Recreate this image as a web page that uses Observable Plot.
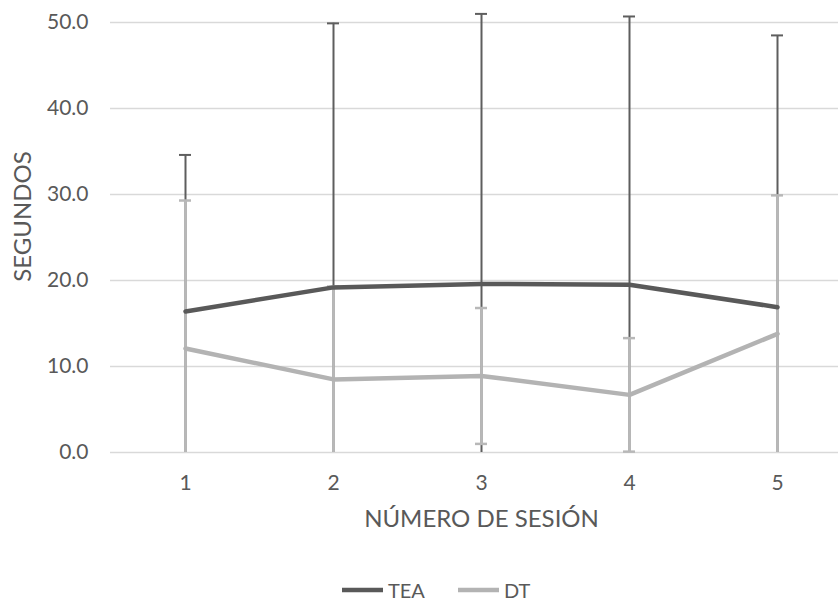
<!DOCTYPE html>
<html><head><meta charset="utf-8">
<script src="https://cdn.jsdelivr.net/npm/d3@7"></script>
<script src="https://cdn.jsdelivr.net/npm/@observablehq/plot@0.6"></script>
<style>
body{margin:0;background:#fff;font-family:Lato,sans-serif}
#legend{position:absolute;left:341px;top:575px;height:30px;display:flex;justify-content:flex-start;align-items:center;gap:32px;font-size:20px;color:#595959}
#legend .item{display:flex;align-items:center;gap:4px}
</style>
</head><body>
<div id="chart" style="position:relative;width:838px;height:601px"></div>
<script>
const sessions = ["1", "2", "3", "4", "5"];
const seriesNames = ["TEA", "DT"];
const teaMean = [16.4, 19.2, 19.6, 19.5, 16.9];
const teaSD = [18.2, 30.7, 31.4, 31.2, 31.6];
const dtMean = [12.1, 8.5, 8.9, 6.7, 13.8];
const dtSD = [17.2, 10.8, 7.9, 6.6, 16.1];
const yTicks = [0, 10, 20, 30, 40, 50];

const styles = {
  TEA: {line: "#595959", err: "#5e5e5e", errW: 2},
  DT: {line: "#b3b3b3", err: "#b8b8b8", errW: 2.5}
};
const means = {TEA: teaMean, DT: dtMean};
const sds = {TEA: teaSD, DT: dtSD};

function rowsFor(name) {
  return sessions.map((s, i) => {
    const m = means[name][i], sd = sds[name][i];
    return {session: s, series: name, mean: m, lo: m - sd, hi: m + sd};
  });
}

const errMarks = [];
for (const name of seriesNames) {
  const rows = rowsFor(name);
  const st = styles[name];
  errMarks.push(
    Plot.ruleX(rows, {x: "session", y1: d => Math.max(0, d.lo), y2: "hi", stroke: st.err, strokeWidth: st.errW}),
    Plot.tickY(rows, {x: "session", y: "hi", insetLeft: 68, insetRight: 68, stroke: st.err, strokeWidth: st.errW}),
    Plot.tickY(rows.filter(d => d.lo >= 0), {x: "session", y: "lo", insetLeft: 68, insetRight: 68, stroke: st.err, strokeWidth: st.errW})
  );
}

const lineMarks = ["DT", "TEA"].map(name =>
  Plot.line(rowsFor(name), {x: "session", y: "mean", stroke: styles[name].line, strokeWidth: 4.5, strokeLinejoin: "round", strokeLinecap: "round"})
);

const chart = Plot.plot({
  width: 838,
  height: 560,
  marginTop: 22,
  marginBottom: 108,
  marginLeft: 110,
  marginRight: 0,
  style: {fontFamily: "Lato, sans-serif", color: "#595959", background: "#fff"},
  x: {type: "band", domain: sessions, range: [110, 852], padding: 0},
  y: {domain: [0, 50], range: [452, 22]},
  marks: [
    Plot.ruleY(yTicks, {stroke: "#d9d9d9", strokeWidth: 1.5}),
    ...errMarks,
    ...lineMarks,
    Plot.axisY({ticks: yTicks, tickFormat: d3.format(".1f"), tickSize: 0, tickPadding: 22, fontSize: 21, fill: "#595959", label: null}),
    Plot.axisX({tickSize: 0, tickPadding: 23, fontSize: 21, fill: "#595959", label: null}),
    Plot.text(["SEGUNDOS"], {frameAnchor: "left", textAnchor: "middle", rotate: -90, dx: -87.5, dy: -21, fontSize: 24, fill: "#595959"}),
    Plot.text(["NÚMERO DE SESIÓN"], {frameAnchor: "bottom", textAnchor: "middle", dx: 7, dy: 74, fontSize: 24, fill: "#595959"})
  ]
});

const holder = document.getElementById("chart");
holder.appendChild(chart);

const legend = document.createElement("div");
legend.id = "legend";
for (const name of seriesNames) {
  const item = document.createElement("div");
  item.className = "item";
  item.innerHTML = `<svg width="43" height="8"><line x1="1" y1="4" x2="42" y2="4" stroke="${styles[name].line}" stroke-width="4.5"/></svg><span>${name}</span>`;
  legend.appendChild(item);
}
holder.appendChild(legend);
</script>
</body></html>
